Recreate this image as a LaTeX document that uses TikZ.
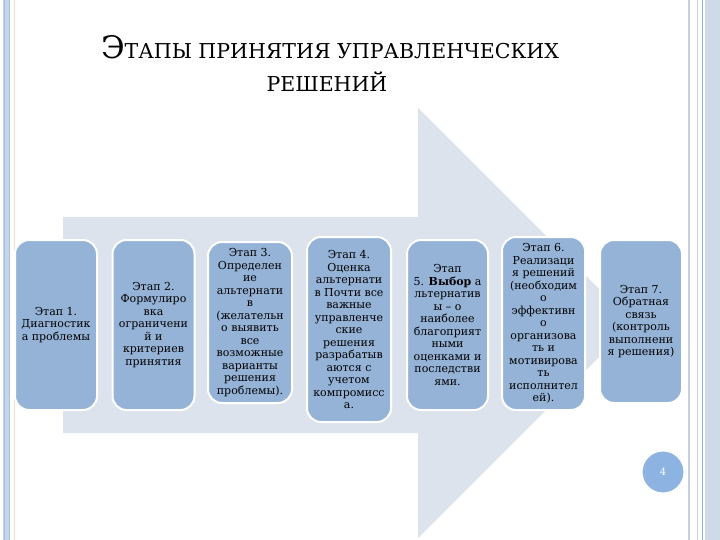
\documentclass[tikz,border=0pt]{standalone}
\usepackage{fontspec}
\setmainfont{DejaVu Serif}
\definecolor{arrowc}{HTML}{DCE3EC}
\definecolor{boxc}{HTML}{95B3D7}
\definecolor{circc}{HTML}{8DB3E2}
\definecolor{frameA}{HTML}{C6D6EA}
\definecolor{frameB}{HTML}{A9C0DC}
\definecolor{frameO}{HTML}{F8DCC4}
\definecolor{frameR}{HTML}{CFD9E8}
\definecolor{frameL}{HTML}{8FB3DE}
\definecolor{frameG}{HTML}{C5D0DD}
\tikzset{
  stagebox/.style={fill=boxc, draw=white, line width=2pt, rounded corners=14pt,
    inner sep=0pt, align=center, text=black,
    font=\fontsize{11}{12.5}\selectfont},
  titletext/.style={inner sep=0pt, text=black, anchor=base},
}
\newcommand{\bigE}{{\fontsize{31}{31}\selectfont Э}}
\begin{document}
\begin{tikzpicture}[x=1pt,y=-1pt]
\useasboundingbox (0,0) rectangle (720,540);
\fill[white] (0,0) rectangle (720,540);
% frame left
\fill[frameA] (3,0) rectangle (10,540);
\draw[frameB, line width=0.8pt] (4,0) -- (4,540);
\draw[frameB, line width=0.8pt] (9,0) -- (9,540);
\draw[frameO, line width=1pt] (14.5,0) -- (14.5,540);
% frame right
\draw[frameG, line width=1.5pt] (689,0) -- (689,540);
\draw[frameG, line width=1pt] (697,0) -- (697,540);
\fill[frameR] (705,0) rectangle (720,540);
\draw[frameL, line width=1.2pt] (702.5,0) -- (702.5,540);
% title
\node[titletext] (t1) at (330,59) {\bigE{\fontsize{20.5}{20.5}\selectfont ТАПЫ ПРИНЯТИЯ УПРАВЛЕНЧЕСКИХ}};
\node[titletext] (t2) at (327,92) {\fontsize{20.5}{20.5}\selectfont РЕШЕНИЙ};
% big arrow
\fill[arrowc] (63,217) -- (418,217) -- (418,108) -- (633,323) -- (418,538) -- (418,433) -- (63,433) -- cycle;
% stages
\node[stagebox, minimum width=82pt, minimum height=170pt] (s1) at (56,325)
  {Этап 1.\\Диагностик\\а проблемы};
\node[stagebox, minimum width=82pt, minimum height=170pt] (s2) at (153.5,325)
  {Этап 2.\\Формулиро\\вка\\ограничени\\й и\\критериев\\принятия};
\node[stagebox, minimum width=84pt, minimum height=161pt] (s3) at (250,322.5)
  {Этап 3.\\Определен\\ие\\альтернати\\в\\(желательн\\о выявить\\все\\возможные\\варианты\\решения\\проблемы).};
\node[stagebox, minimum width=84pt, minimum height=185pt] (s4) at (349,329.5)
  {Этап 4.\\Оценка\\альтернати\\в Почти все\\важные\\управленче\\ские\\решения\\разрабатыв\\аются с\\учетом\\компромисс\\а.};
\node[stagebox, minimum width=81pt, minimum height=170pt] (s5) at (447.5,325)
  {Этап\\5. \textbf{Выбор} а\\льтернатив\\ы – о\\наиболее\\благоприят\\ными\\оценками и\\последстви\\ями.};
\node[stagebox, minimum width=83pt, minimum height=173pt] (s6) at (543.5,323.5)
  {Этап 6.\\Реализаци\\я решений\\(необходим\\о\\эффективн\\о\\организова\\ть и\\мотивирова\\ть\\исполнител\\ей).};
\node[stagebox, minimum width=82pt, minimum height=163pt] (s7) at (641,321.5)
  {Этап 7.\\Обратная\\связь\\(контроль\\выполнени\\я решения)};
% page number
\node[circle, fill=circc, draw=white, line width=1pt, minimum size=42pt, inner sep=0pt,
  text=white, font=\fontsize{10}{10}\selectfont] (pg) at (663,472) {4};
\end{tikzpicture}
\end{document}
